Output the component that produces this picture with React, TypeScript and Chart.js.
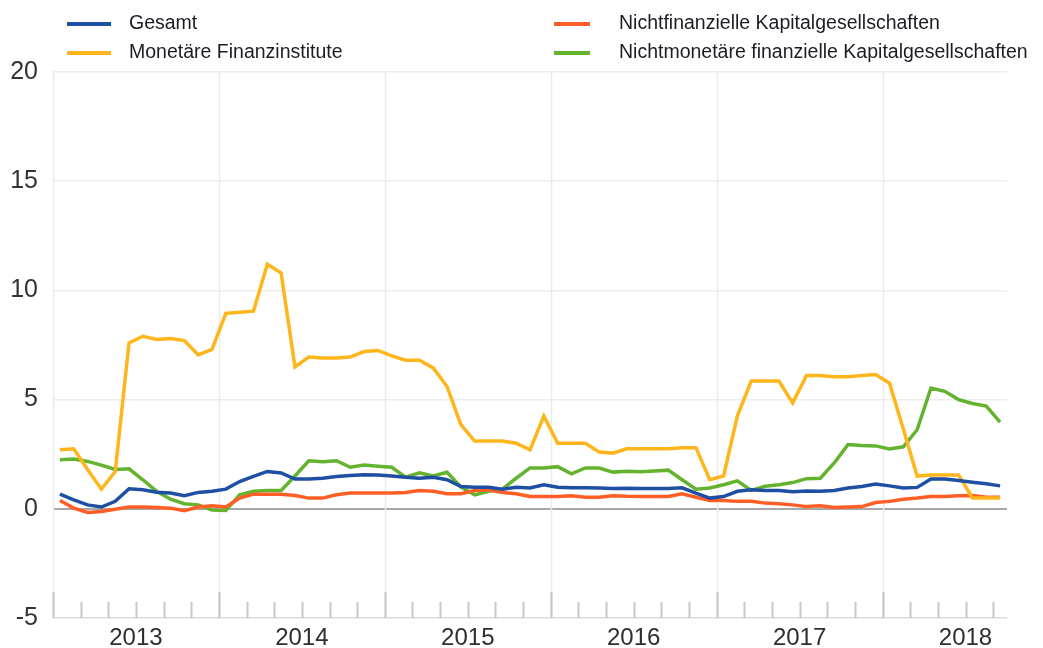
import React, { useEffect, useRef } from "react";
import { Chart, registerables } from "chart.js";

Chart.register(...registerables);

// Monthly observations, January 2013 – September 2018
const months: string[] = [];
for (let y = 2013; y <= 2018; y++) {
  for (let m = 1; m <= 12; m++) {
    if (y === 2018 && m > 9) break;
    months.push(`${y}-${String(m).padStart(2, "0")}`);
  }
}

const years = ["2013", "2014", "2015", "2016", "2017", "2018"];

const gesamt = [
  0.67, 0.41, 0.18, 0.08, 0.34, 0.92, 0.87, 0.76, 0.72, 0.6, 0.75, 0.8,
  0.9, 1.25, 1.48, 1.71, 1.64, 1.36, 1.36, 1.4, 1.48, 1.53, 1.56, 1.55,
  1.5, 1.44, 1.4, 1.44, 1.33, 1.02, 0.99, 0.99, 0.9, 0.99, 0.95, 1.1,
  0.99, 0.96, 0.96, 0.95, 0.93, 0.94, 0.93, 0.93, 0.93, 0.96, 0.72, 0.49,
  0.56, 0.8, 0.87, 0.84, 0.84, 0.78, 0.81, 0.8, 0.84, 0.95, 1.02, 1.13,
  1.05, 0.95, 0.98, 1.36, 1.36, 1.3, 1.22, 1.15, 1.05,
];

const monetaer = [
  2.7, 2.75, 1.8, 0.9, 1.7, 7.6, 7.9, 7.75, 7.8, 7.7, 7.05, 7.3,
  8.95, 9.0, 9.05, 11.2, 10.8, 6.5, 6.95, 6.9, 6.9, 6.95, 7.2, 7.25,
  7.0, 6.8, 6.8, 6.45, 5.6, 3.85, 3.1, 3.1, 3.1, 3.0, 2.7, 4.25,
  3.0, 3.0, 3.0, 2.6, 2.55, 2.75, 2.75, 2.75, 2.75, 2.8, 2.8, 1.33,
  1.5, 4.25, 5.85, 5.85, 5.85, 4.85, 6.1, 6.1, 6.05, 6.05, 6.1, 6.15,
  5.75, 3.65, 1.5, 1.55, 1.55, 1.55, 0.5, 0.5, 0.5,
];

const nichtfinanziell = [
  0.38, 0.03, -0.17, -0.12, -0.02, 0.08, 0.08, 0.06, 0.03, -0.09, 0.08, 0.14,
  0.08, 0.49, 0.67, 0.67, 0.67, 0.61, 0.49, 0.49, 0.64, 0.72, 0.72, 0.72,
  0.72, 0.75, 0.84, 0.8, 0.69, 0.69, 0.84, 0.87, 0.75, 0.69, 0.56, 0.56,
  0.56, 0.6, 0.53, 0.53, 0.6, 0.57, 0.56, 0.56, 0.56, 0.69, 0.53, 0.38,
  0.38, 0.34, 0.34, 0.26, 0.23, 0.18, 0.1, 0.14, 0.06, 0.08, 0.1, 0.29,
  0.34, 0.44, 0.49, 0.56, 0.56, 0.6, 0.61, 0.53, 0.53,
];

const nichtmonetaer = [
  2.25, 2.28, 2.17, 2.0, 1.8, 1.83, 1.33, 0.8, 0.44, 0.23, 0.18, -0.05,
  -0.08, 0.64, 0.8, 0.84, 0.84, 1.5, 2.2, 2.15, 2.2, 1.9, 2.0, 1.95,
  1.9, 1.45, 1.65, 1.5, 1.67, 1.0, 0.64, 0.8, 0.9, 1.4, 1.87, 1.87,
  1.93, 1.6, 1.87, 1.87, 1.68, 1.72, 1.7, 1.73, 1.77, 1.33, 0.9, 0.95,
  1.1, 1.28, 0.84, 1.03, 1.1, 1.2, 1.38, 1.4, 2.1, 2.94, 2.9, 2.88,
  2.74, 2.84, 3.62, 5.53, 5.38, 5.0, 4.82, 4.7, 3.97,
];

const seriesNames = [
  "Gesamt",
  "Monetäre Finanzinstitute",
  "Nichtfinanzielle Kapitalgesellschaften",
  "Nichtmonetäre finanzielle Kapitalgesellschaften",
];
const seriesColors = ["#1f4fa3", "#ffb51c", "#ff5f26", "#64b32e"];
const seriesValues = [gesamt, monetaer, nichtfinanziell, nichtmonetaer];

const FONT = "'Liberation Sans', Arial, sans-serif";

const decorPlugin = {
  id: "decor",
  beforeDatasetsDraw(chart: any) {
    const { ctx, chartArea, scales } = chart;
    const x = scales.x;
    ctx.save();
    for (let m = 0; m <= months.length; m += 2) {
      const px = Math.round(x.getPixelForValue(m)) + 0.5;
      if (px > chartArea.right + 1) break;
      const major = m % 12 === 0;
      if (major) {
        ctx.strokeStyle = "#ebebeb";
        ctx.lineWidth = 1.5;
        ctx.beginPath();
        ctx.moveTo(px, chartArea.top);
        ctx.lineTo(px, chartArea.bottom);
        ctx.stroke();
      }
      ctx.strokeStyle = "#c6c6c6";
      ctx.lineWidth = 2;
      ctx.beginPath();
      ctx.moveTo(px, chartArea.bottom - (major ? 26 : 16));
      ctx.lineTo(px, chartArea.bottom);
      ctx.stroke();
    }
    ctx.restore();
  },
  afterDraw(chart: any) {
    const { ctx, chartArea, scales } = chart;
    const x = scales.x;
    ctx.save();
    // year labels
    ctx.fillStyle = "#2e2e2e";
    ctx.font = `24px ${FONT}`;
    ctx.textAlign = "center";
    ctx.textBaseline = "middle";
    years.forEach((yr, k) => {
      ctx.fillText(yr, x.getPixelForValue(12 * k + 6), chartArea.bottom + 20);
    });
    // legend (two columns)
    const colLine = [67, 554];
    const colLen = [44, 36];
    const colText = [129, 619];
    const rowY = [24, 53];
    ctx.font = `19.5px ${FONT}`;
    ctx.textAlign = "left";
    seriesNames.forEach((name, d) => {
      const c = Math.floor(d / 2);
      const r = d % 2;
      ctx.strokeStyle = seriesColors[d];
      ctx.lineWidth = 4;
      ctx.beginPath();
      ctx.moveTo(colLine[c], rowY[r]);
      ctx.lineTo(colLine[c] + colLen[c], rowY[r]);
      ctx.stroke();
      ctx.fillStyle = "#1c1c24";
      ctx.fillText(name, colText[c], rowY[r]);
    });
    ctx.restore();
  },
};

export default function App() {
  const ref = useRef<HTMLCanvasElement | null>(null);

  useEffect(() => {
    if (!ref.current) return;
    const chart = new Chart(ref.current, {
      type: "line",
      data: {
        labels: months,
        datasets: seriesNames.map((name, d) => ({
          label: name,
          data: seriesValues[d].map((v, i) => ({ x: i + 0.5, y: v })),
          borderColor: seriesColors[d],
          backgroundColor: seriesColors[d],
          borderWidth: 3.5,
          pointRadius: 0,
          tension: 0,
          fill: false,
        })),
      },
      options: {
        responsive: false,
        animation: false,
        layout: { padding: { left: 0, right: 36, top: 72, bottom: 30 } },
        plugins: {
          legend: { display: false },
          tooltip: { enabled: false },
        },
        scales: {
          x: {
            type: "linear",
            min: 0,
            max: 69,
            display: false,
          },
          y: {
            min: -5,
            max: 20,
            afterFit: (s: any) => {
              s.width = 53;
            },
            border: { display: false },
            grid: {
              drawTicks: false,
              color: (c: any) =>
                c.tick && c.tick.value === 0
                  ? "#a8a8a8"
                  : c.tick && c.tick.value === -5
                  ? "#dcdcdc"
                  : "#ededed",
              lineWidth: (c: any) => (c.tick && c.tick.value === 0 ? 2 : 1.5),
            },
            ticks: {
              stepSize: 5,
              padding: 15,
              color: "#333333",
              font: { family: FONT, size: 25 },
            },
          },
        },
      },
      plugins: [decorPlugin],
    });
    return () => chart.destroy();
  }, []);

  return (
    <div style={{ position: "absolute", left: 0, top: 0, width: 1043, height: 648, background: "#fff" }}>
      <canvas ref={ref} width={1043} height={648} />
    </div>
  );
}
